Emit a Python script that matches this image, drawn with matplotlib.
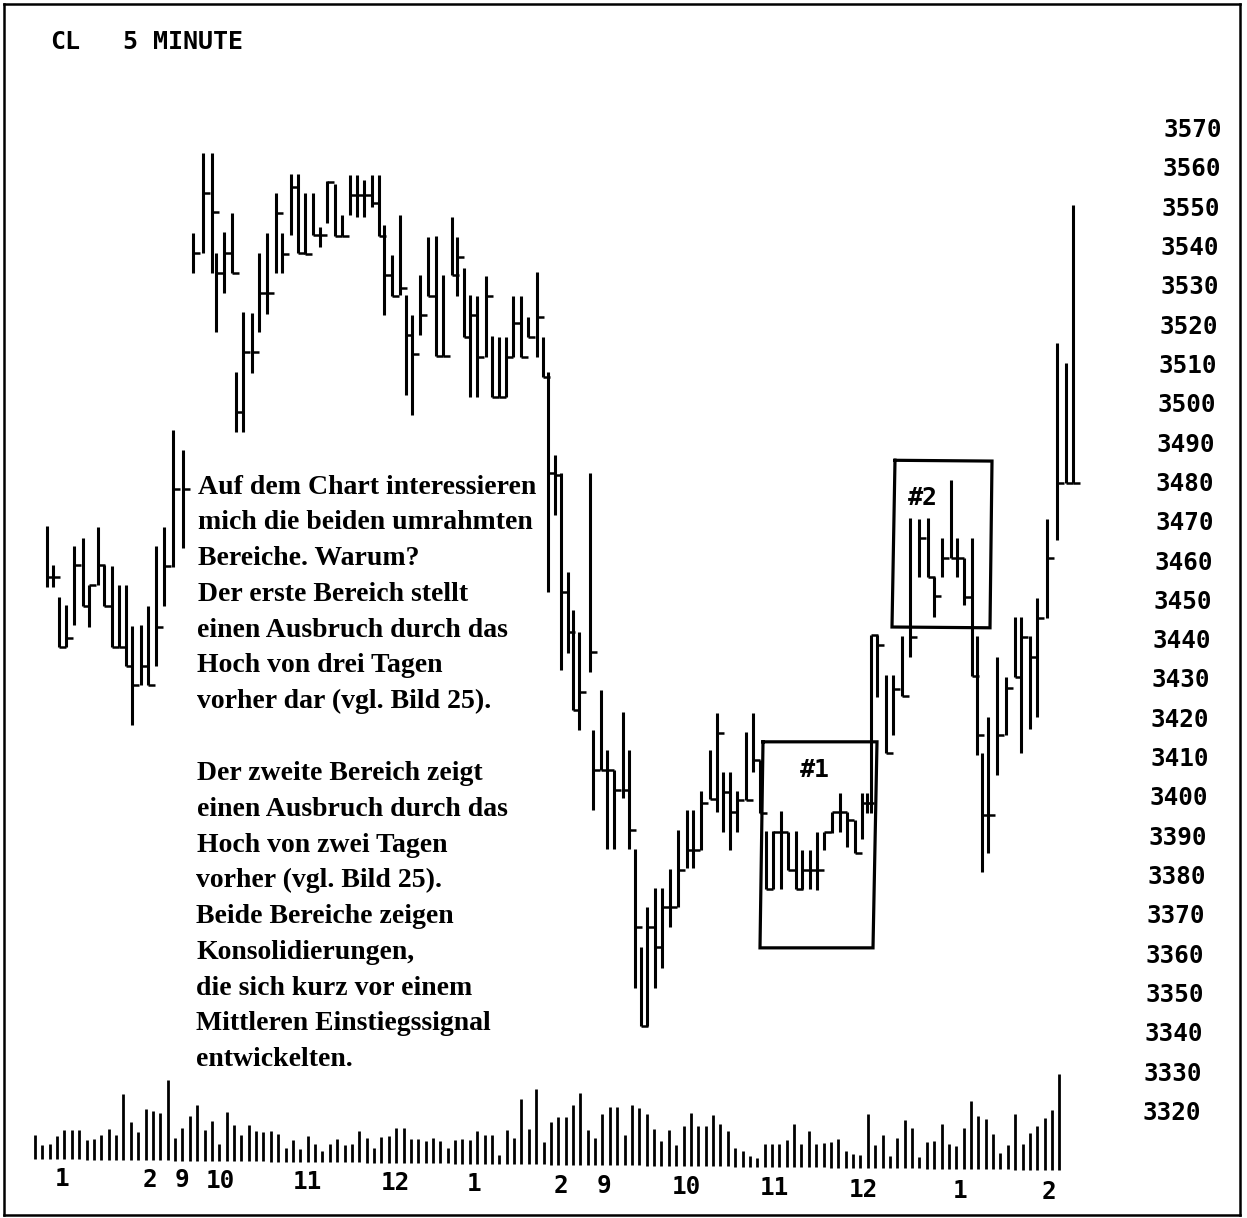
import numpy as np
import matplotlib
matplotlib.use("Agg")
import matplotlib.pyplot as plt

W, H = 1247, 1218

bar_time = [47,53,59,66,74,83,89,98,104,112,119,126,132,141,148,156,164,173,183,
 193,203,212,216,224,232,236,243,252,259,267,276,282,291,298,305,313,320,327,335,342,350,357,364,372,379,
 384,392,400,406,412,420,428,436,443,452,457,464,470,477,486,492,499,506,513,521,528,537,543,548,555,561,568,573,579,590,593,601,
 607,614,623,629,635,641,647,655,662,670,678,687,693,701,710,717,723,730,737,746,753,760,766,773,781,788,796,802,810,817,824,832,840,847,855,862,867,871,
 877,886,893,902,910,919,928,934,942,951,957,964,972,977,982,988,997,1006,1015,1021,1030,1037,1047,1057,1066,1073]
bar_high = [3469.2,3459.3,3451.2,3449.1,3464.1,3466.2,3454.2,3469,3459.3,3459,3454.2,3454.2,3443.8,3444,3448.9,3464.1,3469,3493.7,3488.6,
 3543.8,3564.1,3564.1,3538.7,3544,3548.9,3508.4,3523.7,3523.4,3538.7,3543.8,3554,3543.8,3558.8,3558.8,3554,3554,3545.3,3557,3556.3,3548.4,3558.5,3558.5,3557.3,3558.5,3558.5,
 3545.8,3538.2,3548.4,3528,3522.9,3533.1,3542.8,3543,3533.1,3547.9,3542.8,3534.9,3528,3527.8,3532.8,3517.6,3517.3,3517.3,3527.8,3527.8,3522.4,3533.9,3517.3,3508.4,3487.3,3482.7,3457.5,3447.9,3442.3,3482.7,3417.3,3427.5,
 3412.2,3407.2,3421.9,3412.2,3387.1,3362.1,3372.3,3377.1,3377.1,3382,3391.9,3397,3397,3401.8,3412.2,3421.7,3406.6,3406.6,3401.8,3416.8,3421.7,3409.7,3391.6,3391.6,3396.7,3391.4,3391.6,3386.8,3386.8,3391.4,3391.4,3396.5,3401.3,3396.5,3394.4,3401.3,3401.3,3441.5,
 3441.5,3431.3,3431.3,3441.2,3471.3,3471,3471.3,3456.3,3466.2,3480.9,3466.2,3461.1,3466.2,3441.2,3411.5,3420.6,3435.9,3430.8,3446.1,3446.1,3441.2,3450.9,3471,3515.8,3510.7,3550.9]
bar_low = [3453.7,3453.7,3438.4,3438.4,3444,3448.9,3443.5,3454.2,3448.9,3438.4,3438.4,3433.6,3418.6,3428.8,3428.8,3433.6,3448.9,3458.8,3463.6,
 3533.6,3538.7,3533.6,3518.6,3528.5,3533.6,3493.2,3493.2,3508.2,3518.6,3523.2,3533.6,3533.6,3543.3,3538.7,3538.5,3543.3,3540.2,3546.3,3543,3543,3548.4,3547.9,3547.9,3550.4,3543,
 3522.9,3527.8,3528,3502.6,3497.5,3517.8,3527.8,3512.5,3512.5,3533,3527.8,3517.3,3502.1,3502.1,3512.2,3502.1,3502.1,3502.1,3512.2,3512.2,3517.3,3512.2,3507.2,3452.4,3472,3432.6,3436.9,3422.4,3417.3,3432.1,3397,3407.2,
 3387.1,3387.1,3400,3387.1,3351.9,3342,3342,3351.9,3357,3367.2,3372.3,3382.2,3382.2,3386.8,3399.8,3396.5,3391.4,3386.8,3391.4,3399.5,3406.6,3396.2,3376.9,3376.9,3376.9,3381.9,3376.9,3376.9,3376.9,3376.6,3386.8,3391.1,3391.4,3387.6,3386,3389.6,3396.2,3396.2,
 3425.7,3411.5,3416.1,3426,3435.9,3456.3,3456.3,3446.1,3456.3,3461.1,3456.3,3449.1,3431.1,3411,3381.2,3386,3405.9,3416.1,3430.8,3411.5,3417.6,3420.6,3445.8,3465.7,3480.2,3480.2]
bar_close = [3456.3,3456.3,3438.4,3440.7,3459.3,3448.9,3454.2,3459.3,3448.9,3438.4,3438.4,3433.6,3428.8,3433.6,3428.8,3443.5,3459,3478.7,3478.7,
 3538.7,3554,3549.1,3533.6,3538.7,3533.6,3498.2,3513.5,3513.5,3528.5,3528.5,3549,3538.5,3555.5,3538.7,3538.5,3543.3,3543.3,3556.8,3543,3543,3553.5,3553.5,3553.5,3551.4,3543,
 3533.1,3527.8,3529.8,3517.8,3513,3522.9,3527.8,3512.5,3512.5,3533,3537.7,3517.3,3522.9,3512.2,3527.8,3502.1,3502.1,3512.2,3520.9,3512.2,3517.3,3522.4,3507.2,3482.7,3482.2,3452.4,3442.3,3422.4,3427,3437.2,3407.2,3407.2,
 3407.2,3402.1,3402.1,3392.1,3367.2,3342,3367.2,3362.1,3372.3,3372.3,3381.7,3386.8,3386.8,3398.8,3399.8,3416.6,3401.6,3396.5,3399.5,3399.5,3409.7,3396.2,3376.9,3391.4,3391.4,3381.9,3376.9,3381.7,3381.7,3381.7,3391.4,3396.5,3396.5,3394.4,3386,3398.8,3398.8,3441.5,
 3439,3411.5,3427.8,3426,3441,3466.2,3456.3,3451.4,3461.1,3461.1,3461.1,3451.2,3431.1,3416.1,3395.7,3395.7,3416.1,3428,3430.8,3441,3435.9,3445.8,3461.1,3480.2,3480.2,3480.2]

volume = [24,14,15,23,29,29,29,20,21,25,31,25,66,38,28,51,49,47,80,23,33,45,56,31,40,17,49,36,26,36,30,29,31,28,14,22,13,26,18,11,18,23,17,18,31,25,15,26,27,35,35,24,24,22,25,22,15,24,25,24,33,29,29,9,34,26,65,35,75,22,43,48,
 48,60,72,35,27,51,58,58,30,60,57,52,37,25,36,21,40,53,40,40,51,42,35,19,16,11,9,23,23,23,27,43,23,36,23,24,26,29,17,14,13,54,23,33,12,30,48,40,11,27,28,45,25,23,41,68,53,50,35,16,24,56,26,37,44,52,60,96]

price_ticks = list(range(3570, 3310, -10))
session_labels = ["1","2","9","10","11","12","1","2","9","10","11","12","1","2"]
session_time = [62,150,182,220,307,395,474,561,604,686,774,863,960,1049]
text_lines = ["Auf dem Chart interessieren","mich die beiden umrahmten","Bereiche. Warum?",
 "Der erste Bereich stellt","einen Ausbruch durch das","Hoch von drei Tagen","vorher dar (vgl. Bild 25).","",
 "Der zweite Bereich zeigt","einen Ausbruch durch das","Hoch von zwei Tagen","vorher (vgl. Bild 25).",
 "Beide Bereiche zeigen","Konsolidierungen,","die sich kurz vor einem","Mittleren Einstiegssignal","entwickelten."]
box1_time = [763,877,873,760,763]; box1_price = [3414.4,3414.4,3362,3362,3414.4]
box2_time = [895,992,990,892,895]; box2_price = [3486,3485.8,3443.4,3443.6,3486]

PX = 3.932  # pixels per price point
fig = plt.figure(figsize=(W/100, H/100), dpi=100, facecolor="white")
ax = fig.add_axes([0,0,1,1])
ax.set_xlim(0, W)
ax.set_ylim(3570-(H-130)/PX, 3570+130/PX)
ax.axis("off")

t = np.array(bar_time, float)
ax.vlines(t, bar_low, bar_high, color="black", lw=2.2, capstyle="butt")
ax.hlines(bar_close, t, t+6.5, color="black", lw=1.8)

ax.plot(box1_time, box1_price, color="black", lw=2.3, solid_joinstyle="miter")
ax.plot(box2_time, box2_price, color="black", lw=2.3, solid_joinstyle="miter")

mono = dict(family="DejaVu Sans Mono", weight="bold", color="black")
ax.text(815, 3570-(770-130)/PX, "#1", fontsize=18, ha="center", va="center", **mono)
ax.text(923, 3570-(498-130)/PX, "#2", fontsize=18, ha="center", va="center", **mono)

# price labels (the scan leans slightly)
for p in price_ticks:
    ax.text(1222-(3570-p)*0.084, p, str(p), fontsize=17.5, ha="right", va="center", **mono)

# volume panel
vax = fig.add_axes([0,0,1,1], facecolor="none")
vx = np.arange(len(volume))
step, vscale = 7.37, 1.0
vax.set_xlim(-35/step, (W-35)/step)
vax.set_ylim(-(H-1159)/vscale, 1159/vscale)
vax.axis("off")
floor = -vx*0.079
vax.vlines(vx, floor, floor+np.array(volume), color="black", lw=2.0)

# text in figure pixels
def fy(y): return 1-y/H
fig.text(50/W, fy(42), "CL", fontsize=18, ha="left", va="center", **mono)
fig.text(123/W, fy(42), "5 MINUTE", fontsize=18, ha="left", va="center", **mono)
for lab, x in zip(session_labels, session_time):
    fig.text(x/W, fy(1178+x*0.0135), lab, fontsize=17.5, ha="center", va="center", **mono)
for i, line in enumerate(text_lines):
    fig.text((198-i*0.14)/W, fy(487+i*35.8), line, family="Liberation Serif", weight="bold",
             fontsize=20, ha="left", va="center", color="black")

# page frame
frame = fig.add_axes([4/W, 3/H, (1240-4)/W, (1214-3)/H], facecolor="none")
frame.set_xticks([]); frame.set_yticks([])
for s in frame.spines.values():
    s.set_linewidth(1.8)

fig.savefig("out.png", dpi=100)
